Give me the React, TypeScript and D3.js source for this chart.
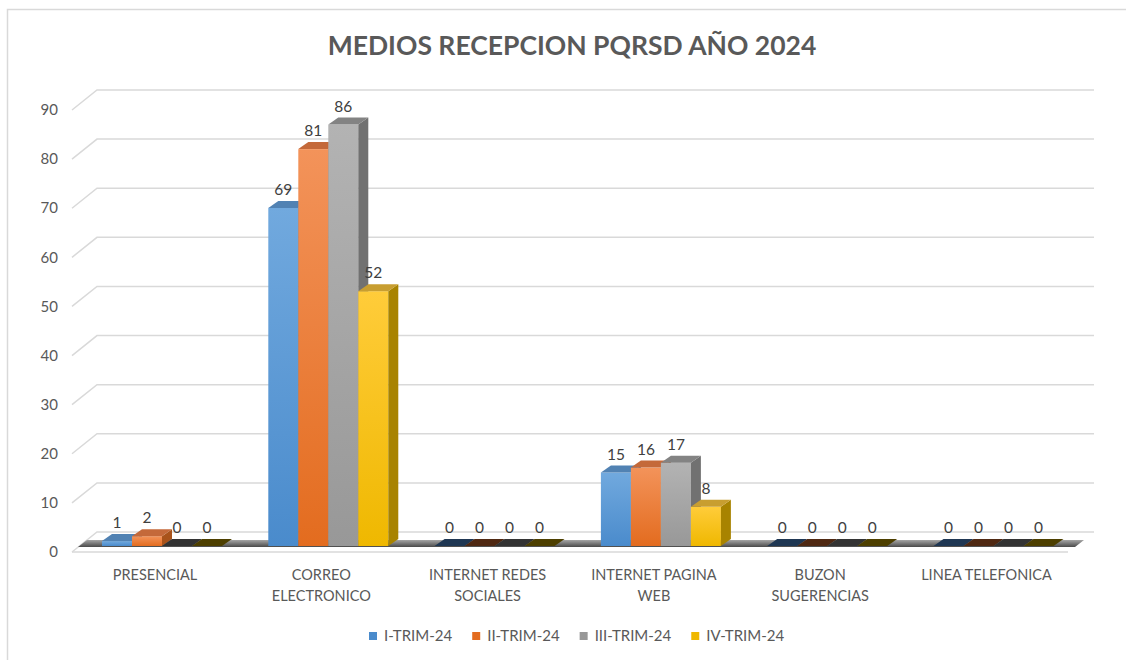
import React, { useEffect, useRef } from 'react';
import * as d3 from 'd3';

// chart data
const categories = ['PRESENCIAL', 'CORREO ELECTRONICO', 'INTERNET REDES SOCIALES', 'INTERNET PAGINA WEB', 'BUZON SUGERENCIAS', 'LINEA TELEFONICA'];
const categoryLines = [['PRESENCIAL'], ['CORREO', 'ELECTRONICO'], ['INTERNET REDES', 'SOCIALES'], ['INTERNET PAGINA', 'WEB'], ['BUZON', 'SUGERENCIAS'], ['LINEA TELEFONICA']];
const seriesNames = ['I-TRIM-24', 'II-TRIM-24', 'III-TRIM-24', 'IV-TRIM-24'];
const trim1 = [1, 69, 0, 15, 0, 0];
const trim2 = [2, 81, 0, 16, 0, 0];
const trim3 = [0, 86, 0, 17, 0, 0];
const trim4 = [0, 52, 0, 8, 0, 0];
const seriesValues = [trim1, trim2, trim3, trim4];

// colours: front top, front bottom, side, top, flat (zero) top
const palette = [
  { light: '#71a9de', dark: '#4a8bcc', side: '#3d6c9b', top: '#5182b3', flat: '#1f3753' },
  { light: '#f3935a', dark: '#e36c1f', side: '#a9531b', top: '#c4693a', flat: '#4f2812' },
  { light: '#b3b3b3', dark: '#989898', side: '#717171', top: '#838383', flat: '#333333' },
  { light: '#ffcc3a', dark: '#efb800', side: '#a88300', top: '#c89e30', flat: '#4d3f00' },
];

const FONT = 'Lato, "Open Sans", sans-serif';

function App() {
  const ref = useRef<SVGSVGElement | null>(null);

  useEffect(() => {
    const svg = d3.select(ref.current);
    svg.selectAll('*').remove();

    const depthX = 25; // back wall offset
    const depthY = 20;
    const barDX = 10; // bar depth
    const barDY = 7;

    // back wall scale (gridlines)
    const yWall = d3.scaleLinear().domain([0, 90]).range([532, 90]);
    // bar scale (front of bars)
    const yBar = d3.scaleLinear().domain([0, 90]).range([546, 105]);

    const x0 = d3.scaleBand<string>().domain(categories).range([102, 1053.5]).paddingInner(0.2785).paddingOuter(0);
    const x1 = d3.scaleBand<string>().domain(seriesNames).range([0, x0.bandwidth()]).padding(0);

    const defs = svg.append('defs');
    palette.forEach((p, i) => {
      const g = defs.append('linearGradient').attr('id', `front${i}`).attr('x1', 0).attr('y1', 0).attr('x2', 0).attr('y2', 1);
      g.append('stop').attr('offset', '0%').attr('stop-color', p.light);
      g.append('stop').attr('offset', '100%').attr('stop-color', p.dark);
    });
    const fg = defs.append('linearGradient').attr('id', 'floor').attr('x1', 0).attr('y1', 0).attr('x2', 0).attr('y2', 1);
    fg.append('stop').attr('offset', '0%').attr('stop-color', '#a6a6a6');
    fg.append('stop').attr('offset', '100%').attr('stop-color', '#4a4a4a');

    // chart border
    svg.append('rect').attr('x', 7.5).attr('y', 9.5).attr('width', 1200).attr('height', 700)
      .attr('fill', '#fff').attr('stroke', '#d9d9d9').attr('stroke-width', 1.5);

    // title
    svg.append('text').attr('x', 572).attr('y', 55).attr('text-anchor', 'middle')
      .attr('font-family', FONT).attr('font-weight', 700).attr('font-size', 26.5)
      .attr('fill', '#595959').text('MEDIOS RECEPCION PQRSD AÑO 2024');

    const wallLeft = 97;
    const wallRight = 1094;
    const ticks = yWall.ticks(9);

    // gridlines
    const grid = svg.append('g').attr('stroke', '#d9d9d9').attr('stroke-width', 1.5).attr('fill', 'none');
    ticks.forEach(t => {
      const y = yWall(t);
      grid.append('path').attr('d', `M${wallLeft - depthX},${y + depthY}L${wallLeft},${y}L${wallRight},${y}`);
    });
    // front baseline
    grid.append('line').attr('x1', wallLeft - depthX).attr('x2', 1068).attr('y1', yWall(0) + depthY).attr('y2', yWall(0) + depthY);

    // y labels
    svg.append('g').selectAll('text').data(ticks).join('text')
      .attr('x', 58).attr('y', d => yWall(d) + depthY).attr('dy', '0.35em')
      .attr('text-anchor', 'end').attr('font-family', FONT).attr('font-size', 15).attr('fill', '#595959')
      .text(d => d);

    // floor slab
    const fy = yBar(0) + 1;
    svg.append('path')
      .attr('d', `M78,${fy}L1075,${fy}L1084,${fy - barDY}L87,${fy - barDY}Z`)
      .attr('fill', 'url(#floor)');

    // bars
    const bars = svg.append('g');
    categories.forEach((c, ci) => {
      seriesNames.forEach((s, si) => {
        const v = seriesValues[si][ci];
        const p = palette[si];
        const xl = (x0(c) ?? 0) + (x1(s) ?? 0);
        const w = x1.bandwidth();
        const yb = yBar(0);
        const yt = yBar(v);
        const g = bars.append('g');
        if (v > 0) {
          g.append('rect').attr('x', xl).attr('y', yt).attr('width', w).attr('height', yb - yt).attr('fill', `url(#front${si})`);
          g.append('path').attr('d', `M${xl + w},${yt}L${xl + w + barDX},${yt - barDY}L${xl + w + barDX},${yb - barDY}L${xl + w},${yb}Z`).attr('fill', p.side);
          g.append('path').attr('d', `M${xl},${yt}L${xl + barDX},${yt - barDY}L${xl + w + barDX},${yt - barDY}L${xl + w},${yt}Z`).attr('fill', p.top);
        } else {
          g.append('path').attr('d', `M${xl},${yb}L${xl + barDX},${yb - barDY}L${xl + w + barDX},${yb - barDY}L${xl + w},${yb}Z`).attr('fill', p.flat);
        }
        g.append('text').attr('x', xl + w / 2).attr('y', yt - 13)
          .attr('text-anchor', 'middle').attr('font-family', FONT).attr('font-size', 15.5).attr('fill', '#404040')
          .text(v);
      });
    });

    // category labels
    const catG = svg.append('g').attr('font-family', FONT).attr('font-size', 14.5).attr('fill', '#595959').attr('text-anchor', 'middle');
    categories.forEach((c, ci) => {
      const cx = (x0(c) ?? 0) + x0.bandwidth() / 2 - 7;
      const t = catG.append('text').attr('x', cx).attr('y', 580);
      categoryLines[ci].forEach((line, li) => {
        t.append('tspan').attr('x', cx).attr('dy', li === 0 ? 0 : 21).text(line);
      });
    });

    // legend
    const leg = svg.append('g').attr('font-family', FONT).attr('font-size', 15).attr('fill', '#595959');
    let lx = 369;
    seriesNames.forEach((s, si) => {
      leg.append('rect').attr('x', lx).attr('y', 632).attr('width', 8).attr('height', 8).attr('fill', palette[si].dark);
      const t = leg.append('text').attr('x', lx + 15).attr('y', 641).text(s);
      const tw = (t.node() as SVGTextElement).getComputedTextLength();
      lx += 15 + tw + 20;
    });
  }, []);

  return (
    <svg ref={ref} width={1126} height={660} style={{ position: 'absolute', left: 0, top: 0, background: '#fff' }} />
  );
}

export default App;
